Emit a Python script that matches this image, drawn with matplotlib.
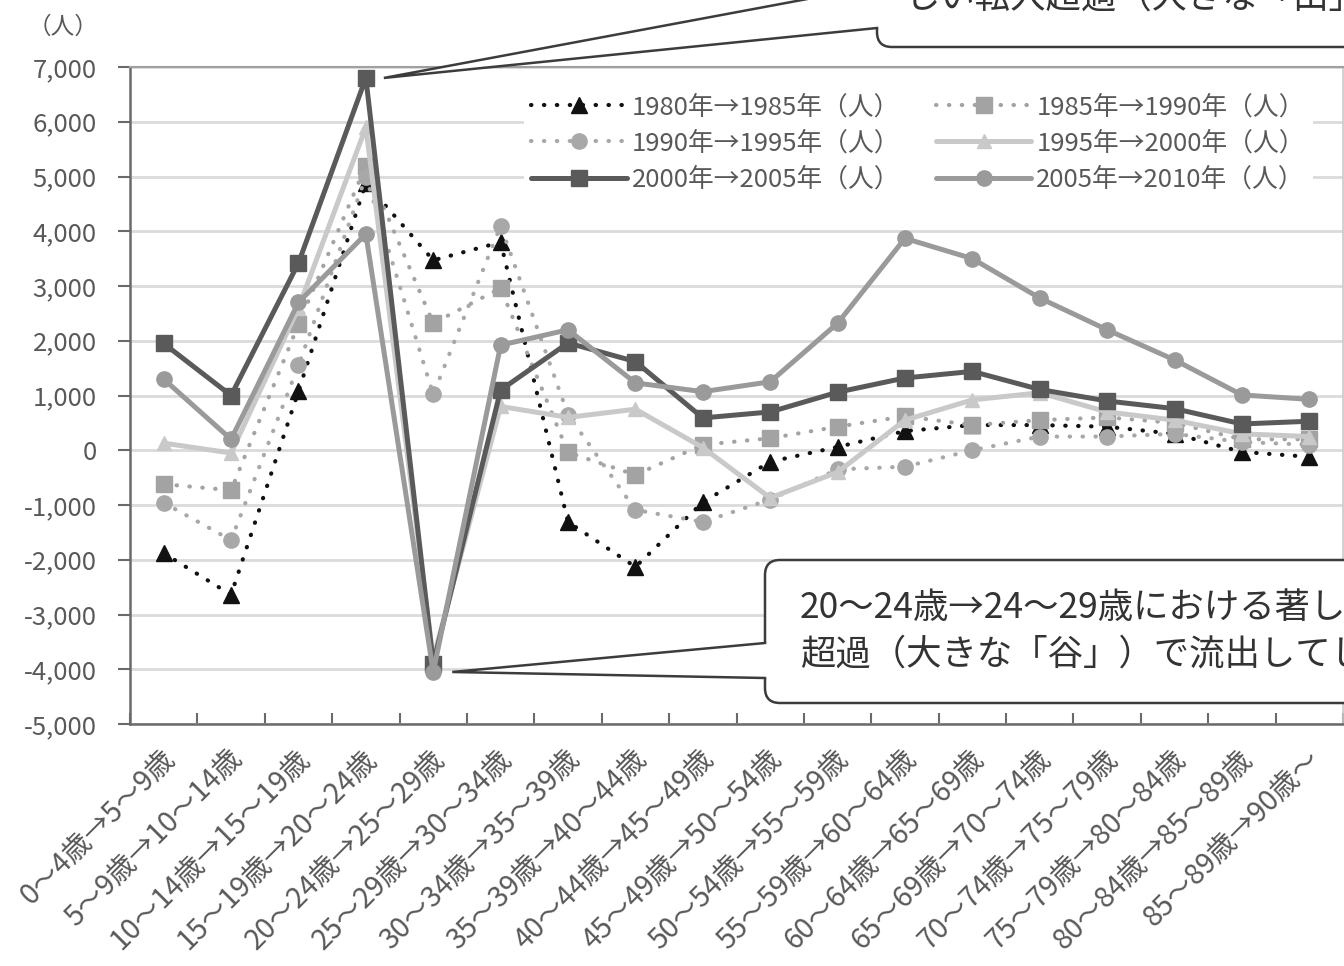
import matplotlib
matplotlib.use("Agg")
import matplotlib.pyplot as plt
from matplotlib.patches import FancyBboxPatch, Polygon
from matplotlib.lines import Line2D
from matplotlib.ticker import FuncFormatter
from matplotlib.transforms import IdentityTransform, ScaledTranslation

plt.rcParams['font.family'] = ['Noto Sans CJK JP', 'DejaVu Sans']

ages = ["0～4歳→5～9歳", "5～9歳→10～14歳", "10～14歳→15～19歳", "15～19歳→20～24歳",
        "20～24歳→25～29歳", "25～29歳→30～34歳", "30～34歳→35～39歳", "35～39歳→40～44歳",
        "40～44歳→45～49歳", "45～49歳→50～54歳", "50～54歳→55～59歳", "55～59歳→60～64歳",
        "60～64歳→65～69歳", "65～69歳→70～74歳", "70～74歳→75～79歳", "75～79歳→80～84歳",
        "80～84歳→85～89歳", "85～89歳→90歳～"]

s1980 = [-1880, -2640, 1080, 4880, 3470, 3800, -1310, -2130, -950, -210, 60, 350, 460, 460, 430, 300, -30, -120]
s1985 = [-620, -730, 2300, 5200, 2320, 2960, -40, -450, 100, 220, 430, 620, 460, 550, 600, 500, 200, 200]
s1990 = [-960, -1640, 1550, 5000, 1020, 4100, 650, -1090, -1310, -900, -350, -300, 0, 250, 250, 300, 150, 100]
s1995 = [130, -50, 2600, 5900, -3800, 800, 600, 750, 50, -870, -400, 550, 920, 1050, 700, 550, 300, 250]
s2000 = [1950, 1000, 3420, 6800, -3900, 1100, 1960, 1620, 590, 700, 1060, 1320, 1440, 1110, 900, 760, 480, 530]
s2005 = [1300, 200, 2700, 3950, -4050, 1920, 2200, 1230, 1070, 1250, 2320, 3870, 3500, 2780, 2200, 1650, 1010, 930]

names = ["1980年→1985年（人）", "1985年→1990年（人）", "1990年→1995年（人）",
         "1995年→2000年（人）", "2000年→2005年（人）", "2005年→2010年（人）"]

note_top = "しい転入超過（大きな「山」）で"
note_low = ["20～24歳→24～29歳における著しい転出", "超過（大きな「谷」）で流出してしまう"]

W, H = 1344, 966
TXT = '#595959'

fig = plt.figure(figsize=(W / 100, H / 100), dpi=100)
ax = fig.add_axes([130 / W, 1 - 724 / H, 1213 / W, 657 / H])

dot = (0, (0.1, 3.0))
styles = [
    dict(color='#111111', ls=dot, lw=3.0, marker='^', ms=11),
    dict(color='#a3a3a3', ls=dot, lw=3.0, marker='s', ms=11),
    dict(color='#a8a8a8', ls=dot, lw=3.0, marker='o', ms=11),
    dict(color='#c9c9c9', ls='-', lw=3.6, marker='^', ms=10),
    dict(color='#5a5a5a', ls='-', lw=3.6, marker='s', ms=11),
    dict(color='#9a9a9a', ls='-', lw=3.6, marker='o', ms=11),
]
data = [s1980, s1985, s1990, s1995, s2000, s2005]
x = list(range(len(ages)))
lines = []
for name, vals, st in zip(names, data, styles):
    ln, = ax.plot(x, vals, label=name, dash_capstyle='round', solid_capstyle='round',
                  mfc=st['color'], mec=st['color'], **st)
    lines.append(ln)

ax.set_xlim(-0.5, len(ages) - 0.5)
ax.set_ylim(-5000, 7000)
ax.set_yticks(range(-5000, 7001, 1000))
ax.yaxis.set_major_formatter(FuncFormatter(lambda v, p: f"{int(v):,}"))
ax.grid(axis='y', color='#dadada', lw=2.0)
ax.set_axisbelow(True)

ax.set_xticks(x)
ax.set_xticklabels(ages, rotation=45, ha='right', va='center', rotation_mode='anchor')
ax.set_xticks([i - 0.5 for i in range(len(ages) + 1)], minor=True)
ax.tick_params(axis='x', which='major', length=0, pad=22, labelsize=20.5, labelcolor=TXT)
ax.tick_params(axis='x', which='minor', direction='in', length=8, width=1.5, color='#6a6a6a')
ax.tick_params(axis='y', direction='out', length=9, width=1.5, color='#6a6a6a',
               pad=15, labelsize=18.5, labelcolor=TXT)
for lab in ax.get_xticklabels():
    lab.set_transform(lab.get_transform() + ScaledTranslation(7 / 100, 0, fig.dpi_scale_trans))

for side in ('left', 'bottom'):
    ax.spines[side].set_color('#6a6a6a')
    ax.spines[side].set_linewidth(1.8)
ax.spines['top'].set_color('#a0a0a0')
ax.spines['top'].set_linewidth(1.5)
ax.spines['right'].set_color('#c8c8c8')
ax.spines['right'].set_linewidth(1.2)

order = [0, 2, 4, 1, 3, 5]
leg = ax.legend([lines[i] for i in order], [names[i] for i in order], ncol=2,
                loc='upper left', bbox_to_anchor=(0.314, 0.99), fontsize=18.5,
                handlelength=3.7, handletextpad=0.2, columnspacing=1.4,
                labelspacing=0.4, borderpad=0.3, numpoints=1,
                frameon=True, facecolor='white', edgecolor='none', framealpha=1)
for t in leg.get_texts():
    t.set_color(TXT)

fig.text(28 / W, 1 - 27 / H, "（人）", fontsize=17, color=TXT, ha='left', va='center')


def callout(tip, left, top, bottom, y_up, y_low, r=15):
    # box and wedge drawn in pixel units, y measured from the top of the image
    box = FancyBboxPatch((left, H - bottom), 900, bottom - top,
                         boxstyle=f"round,pad=0,rounding_size={r}",
                         transform=IdentityTransform(), fc='white', ec='#3c3c3c',
                         lw=1.8, zorder=5)
    fig.add_artist(box)
    cover = Polygon([tip, (left, H - y_up), (left + 5, H - y_up),
                     (left + 5, H - y_low), (left, H - y_low)],
                    closed=True, transform=IdentityTransform(), fc='white',
                    ec='none', zorder=6)
    fig.add_artist(cover)
    fig.add_artist(Line2D([left, tip[0], left], [H - y_up, tip[1], H - y_low],
                          transform=IdentityTransform(), color='#3c3c3c', lw=1.8,
                          solid_joinstyle='miter', zorder=7))


fig.canvas.draw()
px, py = ax.transData.transform((3, s2000[3]))
callout((px + 18, py), 877, -400, 47, -14, 28)
px, py = ax.transData.transform((4, s2005[4]))
callout((px + 19, py), 765, 560, 703, 643, 678)

fig.text(905 / W, 1 + 2 / H, note_top, fontsize=25.5, color='#333333', ha='left', va='center', zorder=8)
fig.text(800 / W, 1 - 608 / H, note_low[0], fontsize=25.5, color='#333333', ha='left', va='center', zorder=8)
fig.text(800 / W, 1 - 655 / H, note_low[1], fontsize=25.5, color='#333333', ha='left', va='center', zorder=8)

fig.savefig("out.png", dpi=100, facecolor='white')
